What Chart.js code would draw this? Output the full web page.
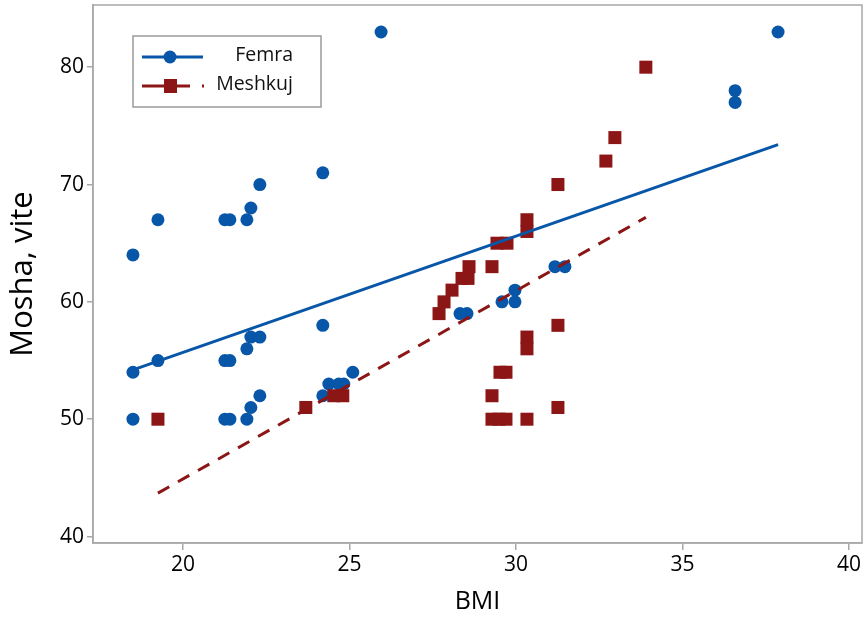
<!DOCTYPE html>
<html>
<head>
<meta charset="utf-8">
<script src="https://cdn.jsdelivr.net/npm/chart.js@4/dist/chart.umd.min.js"></script>
<style>
  html, body { margin: 0; padding: 0; background: #fff; }
  #wrap { width: 866px; height: 617px; }
</style>
</head>
<body>
<div id="wrap"><canvas id="chart" width="866" height="617"></canvas></div>
<script>
// values
const femraBmi = [18.5, 18.5, 18.5, 19.25, 19.25, 21.26, 21.41, 21.26, 21.41, 21.26, 21.41, 21.92, 22.04, 22.31,
  21.92, 22.04, 22.31, 21.92, 22.04, 22.31, 24.2, 24.2, 24.2, 24.38, 24.68, 24.83, 25.1, 25.95,
  28.32, 28.53, 29.58, 29.97, 29.97, 31.17, 31.47, 36.58, 36.58, 37.87];
const femraAge = [64, 54, 50, 67, 55, 67, 67, 55, 55, 50, 50, 67, 68, 70,
  56, 57, 57, 50, 51, 52, 71, 58, 52, 53, 53, 53, 54, 83,
  59, 59, 60, 61, 60, 63, 63, 78, 77, 83];

const meshkujBmi = [19.25, 23.69, 24.53, 24.8, 27.69, 27.84, 28.08, 28.38, 28.56, 28.59, 29.28, 29.43, 29.73,
  30.33, 30.33, 31.26, 32.7, 32.97, 33.9, 31.26, 30.33, 30.33, 29.52, 29.7, 29.28,
  29.28, 29.49, 29.7, 30.33, 31.26];
const meshkujAge = [50, 51, 52, 52, 59, 60, 61, 62, 62, 63, 63, 65, 65,
  66, 67, 70, 72, 74, 80, 58, 57, 56, 54, 54, 52,
  50, 50, 50, 50, 51];

// fitted lines, end points
const femraFitBmi = [18.5, 37.87];
const femraFitAge = [54.2, 73.4];
const meshkujFitBmi = [19.25, 33.9];
const meshkujFitAge = [43.7, 67.2];

const xTicks = [20, 25, 30, 35, 40];
const yTicks = [40, 50, 60, 70, 80];

const blue = '#0756a8';
const red = '#8c1515';
const frameColor = '#a8a8a8';
const font = '"Open Sans", "Noto Sans", sans-serif';

const toPoints = (xs, ys) => xs.map((x, i) => ({ x: x, y: ys[i] }));

// frame around the plot + the legend box in the top left
const framePlugin = {
  id: 'frame',
  afterDraw(chart) {
    const { ctx, chartArea: a } = chart;
    ctx.save();
    ctx.strokeStyle = frameColor;
    ctx.lineWidth = 1.5;
    ctx.strokeRect(a.left, a.top, a.right - a.left, a.bottom - a.top);

    // legend
    ctx.strokeStyle = '#9a9a9a';
    ctx.lineWidth = 1.5;
    ctx.fillStyle = '#fff';
    ctx.fillRect(133, 36, 188, 71);
    ctx.strokeRect(133, 36, 188, 71);

    ctx.lineWidth = 3;
    ctx.strokeStyle = blue;
    ctx.beginPath(); ctx.moveTo(142, 57); ctx.lineTo(203, 57); ctx.stroke();
    ctx.fillStyle = blue;
    ctx.beginPath(); ctx.arc(170, 57, 6.5, 0, Math.PI * 2); ctx.fill();

    ctx.strokeStyle = red;
    ctx.setLineDash([48, 12, 2, 100]);
    ctx.beginPath(); ctx.moveTo(142, 86); ctx.lineTo(204, 86); ctx.stroke();
    ctx.setLineDash([]);
    ctx.fillStyle = red;
    ctx.fillRect(164, 79, 13, 14);

    ctx.fillStyle = '#111';
    ctx.font = '19.5px ' + font;
    ctx.textAlign = 'right';
    ctx.textBaseline = 'middle';
    ctx.fillText('Femra', 293, 55);
    ctx.fillText('Meshkuj', 293, 84);
    ctx.restore();
  }
};

new Chart(document.getElementById('chart'), {
  type: 'scatter',
  data: {
    datasets: [
      {
        label: 'Femra fit',
        type: 'line',
        data: toPoints(femraFitBmi, femraFitAge),
        borderColor: blue,
        borderWidth: 3,
        pointRadius: 0,
        fill: false
      },
      {
        label: 'Meshkuj fit',
        type: 'line',
        data: toPoints(meshkujFitBmi, meshkujFitAge),
        borderColor: red,
        borderWidth: 3,
        borderDash: [13, 10],
        pointRadius: 0,
        fill: false
      },
      {
        label: 'Meshkuj',
        data: toPoints(meshkujBmi, meshkujAge),
        pointStyle: 'rect',
        pointRadius: 9.2,
        backgroundColor: red,
        borderColor: red,
        borderWidth: 0
      },
      {
        label: 'Femra',
        data: toPoints(femraBmi, femraAge),
        pointStyle: 'circle',
        pointRadius: 6.5,
        backgroundColor: blue,
        borderColor: blue,
        borderWidth: 0
      }
    ]
  },
  options: {
    responsive: false,
    animation: false,
    layout: { autoPadding: false, padding: { top: 5, right: 4, left: 0, bottom: 0 } },
    plugins: {
      legend: { display: false },
      tooltip: { enabled: false }
    },
    scales: {
      x: {
        type: 'linear',
        min: 17.3,
        max: 40.39,
        afterBuildTicks: (s) => { s.ticks = xTicks.map(v => ({ value: v })); },
        afterFit: (s) => { s.height = 74; s.paddingLeft = 0; s.paddingRight = 0; },
        grid: { drawOnChartArea: false, color: frameColor, tickLength: 7, lineWidth: 1.5 },
        border: { color: frameColor, width: 1.5 },
        ticks: { color: '#000', font: { family: font, size: 21 }, padding: 2 },
        title: {
          display: true,
          text: 'BMI',
          color: '#000',
          font: { family: font, size: 25 },
          padding: { top: 0, bottom: 0 }
        }
      },
      y: {
        type: 'linear',
        min: 39.45,
        max: 85.3,
        afterBuildTicks: (s) => { s.ticks = yTicks.map(v => ({ value: v })); },
        afterFit: (s) => { s.width = 93; s.paddingTop = 0; s.paddingBottom = 0; },
        grid: { drawOnChartArea: false, color: frameColor, tickLength: 6, lineWidth: 1.5 },
        border: { color: frameColor, width: 1.5 },
        ticks: { color: '#000', font: { family: font, size: 21 }, padding: 3 },
        title: {
          display: true,
          text: 'Mosha, vite',
          color: '#000',
          font: { family: font, size: 31 },
          padding: { top: 5, bottom: 0 }
        }
      }
    }
  },
  plugins: [framePlugin]
});
</script>
</body>
</html>
